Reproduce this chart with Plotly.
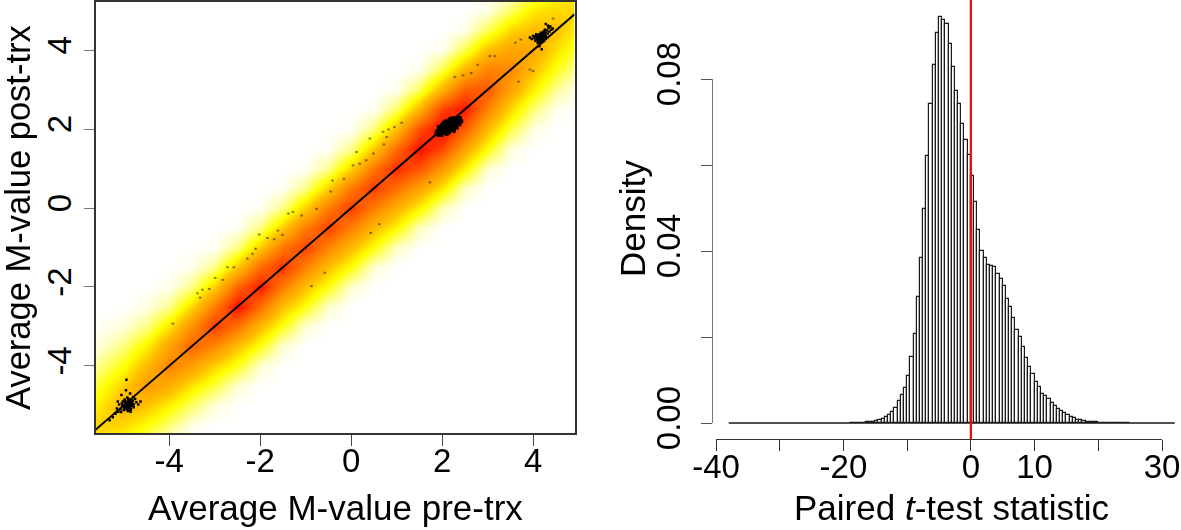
import plotly.graph_objects as go

W, H = 1181, 530
FONT = "Liberation Sans"

# ---------- left panel data ----------
grid = [-6.0 + 0.5 * i for i in range(24)]          # -6.0 ... 5.5
band_offsets = [-2.5, -2.0, -1.5, -1.0, -0.5, 0.0, 0.5, 1.0, 1.5, 2.0, 2.5]
band_rows = [
    [0.00, 0.03, 0.12, 0.22, 0.30, 0.36, 0.30, 0.22, 0.13, 0.05, 0.01],
    [0.00, 0.03, 0.12, 0.23, 0.32, 0.38, 0.32, 0.24, 0.14, 0.05, 0.01],
    [0.00, 0.02, 0.12, 0.24, 0.36, 0.46, 0.38, 0.26, 0.14, 0.04, 0.00],
    [0.00, 0.02, 0.14, 0.27, 0.42, 0.55, 0.44, 0.30, 0.13, 0.03, 0.00],
    [0.00, 0.02, 0.15, 0.30, 0.48, 0.64, 0.52, 0.33, 0.13, 0.02, 0.00],
    [0.00, 0.03, 0.17, 0.33, 0.54, 0.74, 0.58, 0.36, 0.13, 0.02, 0.00],
    [0.00, 0.04, 0.20, 0.37, 0.62, 0.86, 0.66, 0.38, 0.13, 0.01, 0.00],
    [0.00, 0.05, 0.24, 0.42, 0.70, 0.97, 0.74, 0.40, 0.14, 0.01, 0.00],
    [0.00, 0.05, 0.25, 0.44, 0.70, 0.94, 0.72, 0.40, 0.14, 0.01, 0.00],
    [0.00, 0.05, 0.25, 0.42, 0.66, 0.88, 0.68, 0.39, 0.13, 0.01, 0.00],
    [0.00, 0.05, 0.25, 0.42, 0.64, 0.84, 0.66, 0.38, 0.13, 0.01, 0.00],
    [0.00, 0.05, 0.25, 0.42, 0.62, 0.84, 0.66, 0.38, 0.13, 0.01, 0.00],
    [0.00, 0.05, 0.26, 0.43, 0.64, 0.85, 0.67, 0.38, 0.13, 0.01, 0.00],
    [0.00, 0.05, 0.26, 0.44, 0.66, 0.86, 0.68, 0.39, 0.14, 0.01, 0.00],
    [0.00, 0.06, 0.28, 0.47, 0.70, 0.90, 0.72, 0.42, 0.16, 0.02, 0.00],
    [0.00, 0.07, 0.30, 0.52, 0.78, 0.97, 0.80, 0.46, 0.18, 0.02, 0.00],
    [0.00, 0.08, 0.32, 0.55, 0.82, 1.00, 0.84, 0.48, 0.20, 0.02, 0.00],
    [0.00, 0.07, 0.30, 0.52, 0.76, 0.95, 0.76, 0.46, 0.19, 0.02, 0.00],
    [0.00, 0.05, 0.26, 0.44, 0.64, 0.78, 0.64, 0.42, 0.18, 0.03, 0.00],
    [0.00, 0.04, 0.20, 0.36, 0.52, 0.62, 0.52, 0.36, 0.17, 0.04, 0.00],
    [0.00, 0.03, 0.15, 0.30, 0.42, 0.50, 0.43, 0.32, 0.16, 0.05, 0.01],
    [0.00, 0.02, 0.12, 0.25, 0.35, 0.42, 0.36, 0.28, 0.16, 0.06, 0.01],
    [0.00, 0.01, 0.10, 0.20, 0.30, 0.36, 0.31, 0.25, 0.15, 0.06, 0.01],
    [0.00, 0.01, 0.08, 0.18, 0.26, 0.32, 0.28, 0.22, 0.14, 0.06, 0.02],
]
density_stops = [[0.0, "#ffffff"], [0.09, "#ffffb0"], [0.27, "#ffff00"], [0.42, "#ffbe00"],
                 [0.58, "#ff9400"], [0.8, "#ff5000"], [1.0, "#ff0000"]]

stray_x = [1.11, 0.95, 0.82, 0.70, 0.78, 0.72, 0.41, 0.49, 0.12, 0.19, 0.04, 0.33, -0.16, -0.41, -0.45, -0.76,
           -1.28, -1.38, -1.09, -2.02, -1.61, -1.51, -1.84, -1.69, -2.10, -2.17, -2.28, -2.72, -2.58, -2.99,
           -2.82, -3.12, -3.27, -3.38, -3.32, -3.92, 1.73, 0.62, 0.43, -0.58, -0.87, 3.68, 3.93, 4.00,
           2.28, 2.46, 2.64, 2.78, 3.05, 3.16, 3.61, 3.73, 4.44]
stray_y = [2.16, 2.05, 1.99, 1.93, 1.80, 1.61, 1.76, 1.38, 1.42, 1.12, 1.08, 1.21, 0.74, 0.70, 0.42, -0.02,
           -0.10, -0.14, -0.19, -0.67, -0.57, -0.68, -0.76, -0.79, -1.03, -1.16, -1.28, -1.50, -1.50, -1.77,
           -1.82, -2.05, -2.07, -2.16, -2.27, -2.93, 0.65, -0.41, -0.63, -1.64, -1.98, 3.20, 3.51, 3.47,
           3.32, 3.36, 3.42, 3.63, 3.85, 3.85, 4.19, 4.27, 4.80]

low_x = [-5.31, -5.24, -5.18, -5.15, -5.12, -5.10, -5.07, -5.05, -5.03, -5.02, -5.00, -4.98, -4.97, -4.96, -4.95,
         -4.94, -4.93, -4.92, -4.91, -4.90, -4.89, -4.88, -4.87, -4.86, -4.85, -4.84, -4.82, -4.80, -4.78, -4.75,
         -4.72, -4.68, -4.63, -5.00, -4.96, -4.91, -4.87, -5.04, -4.99, -4.93, -4.89, -4.83, -4.97, -4.94, -4.90,
         -4.94, -5.06, -4.79, -4.85, -5.13, -4.96, -4.92, -4.88, -4.84, -4.80, -4.94, -4.90, -4.86, -4.82,
         -4.92, -4.88, -4.84, -4.78, -4.95, -4.91, -4.86]
low_y = [-5.38, -5.30, -5.21, -5.08, -5.16, -4.98, -5.10, -4.74, -5.02, -4.90, -5.12, -4.85, -4.97, -5.05, -4.62,
         -4.92, -5.00, -4.80, -5.08, -4.95, -4.87, -5.02, -4.93, -4.70, -4.98, -5.10, -4.88, -4.96, -5.05, -4.84,
         -4.92, -4.98, -4.90, -5.00, -4.94, -5.02, -4.90, -4.95, -5.06, -4.98, -4.86, -4.94, -4.88, -4.96, -4.92,
         -4.35, -5.17, -4.79, -5.16, -4.90, -4.90, -5.06, -4.94, -5.02, -4.88, -5.10, -4.84, -5.12, -5.00,
         -4.98, -5.04, -4.90, -4.98, -4.92, -5.14, -5.08]

mid_x = [1.88, 1.90, 1.92, 1.94, 1.96, 1.98, 2.00, 2.02, 2.04, 2.06, 2.08, 2.10, 2.12, 2.14, 2.16, 2.18, 2.20, 2.22,
         2.24, 2.26, 2.28, 2.30, 2.33, 2.36, 2.39, 1.95, 1.99, 2.03, 2.07, 2.11, 2.15, 2.19, 2.23, 2.27, 2.31, 1.97,
         2.01, 2.05, 2.09, 2.13, 2.17, 2.21, 2.25, 2.29, 2.00, 2.04, 2.08, 2.12, 2.16, 2.20, 2.24, 2.05, 2.10, 2.15,
         2.19, 2.23, 2.09, 2.14, 2.18, 1.93, 1.92, 1.96, 2.00, 1.98, 2.02, 2.04, 2.06, 2.08, 2.10, 2.12, 2.12, 2.15,
         2.16, 2.18, 2.20, 2.22, 2.22, 2.26, 2.27, 2.28, 2.32, 2.33, 2.38, 2.42, 2.05, 2.00, 2.10, 2.25, 2.18, 2.08]
mid_y = [1.90, 1.95, 1.92, 1.99, 1.96, 2.03, 1.95, 2.07, 2.00, 2.12, 2.02, 2.17, 2.05, 2.21, 2.08, 2.24, 2.10, 2.27,
         2.14, 2.26, 2.18, 2.22, 2.26, 2.24, 2.28, 2.04, 2.08, 1.98, 2.14, 2.08, 2.15, 2.04, 2.20, 2.10, 2.16, 1.91,
         2.11, 2.05, 2.19, 2.13, 2.02, 2.15, 2.08, 2.27, 2.02, 2.16, 2.09, 1.99, 2.21, 2.18, 2.24, 1.93, 2.12, 2.15,
         2.09, 2.12, 1.97, 2.05, 2.01, 2.05, 1.85, 1.93, 2.00, 1.85, 1.90, 2.06, 1.95, 2.14, 1.88, 2.00, 2.20, 1.92,
         2.10, 2.24, 1.98, 2.08, 2.20, 1.96, 2.12, 2.24, 2.04, 2.16, 2.12, 2.20, 2.15, 1.93, 2.08, 2.02, 2.00, 2.02]

top_x = [3.93, 3.97, 4.00, 4.03, 4.05, 4.07, 4.09, 4.10, 4.12, 4.13, 4.14, 4.15, 4.16, 4.17, 4.18, 4.19, 4.20, 4.21,
         4.22, 4.23, 4.24, 4.25, 4.26, 4.27, 4.28, 4.30, 4.32, 4.34, 4.36, 4.38, 4.40, 4.43, 4.12, 4.15, 4.18, 4.21,
         4.24, 4.10, 4.14, 4.17, 4.20, 4.23, 4.26, 4.16, 4.19, 4.22, 4.08, 4.05, 4.33, 4.28, 4.12, 4.16, 4.20, 4.24,
         4.28, 4.14, 4.18, 4.22, 4.26, 4.18, 4.22, 4.16]
top_y = [4.32, 4.28, 4.36, 4.30, 4.24, 4.40, 4.34, 4.18, 4.38, 4.29, 4.10, 4.34, 4.24, 4.44, 4.30, 4.02, 4.36, 4.26,
         4.41, 4.32, 4.48, 4.38, 4.52, 4.44, 4.36, 4.50, 4.42, 4.56, 4.47, 4.60, 4.52, 4.55, 4.22, 4.28, 4.33, 4.30,
         4.36, 4.25, 4.32, 4.27, 4.39, 4.34, 4.42, 4.38, 4.24, 4.46, 4.28, 4.35, 4.62, 4.66, 4.36, 4.20, 4.28, 4.24,
         4.30, 4.40, 4.36, 4.22, 4.34, 4.18, 4.30, 4.34]

identity_line = [-5.62, 4.91]

# ---------- right panel data ----------
bin_left = [-19 + 0.5 * i for i in range(88)]       # -19.0 ... 24.5, width 0.5
bin_density = [
    0.00002, 0.00002, 0.00004, 0.00006, 0.0001, 0.00015, 0.0002, 0.0003, 0.0005, 0.0007,
    0.0010, 0.0014, 0.0019, 0.0026, 0.0036, 0.0051, 0.0066, 0.0081, 0.0109, 0.0153,
    0.0207, 0.0293, 0.0384, 0.0498, 0.0621, 0.0742, 0.0833, 0.0907, 0.0944, 0.0937,
    0.0928, 0.0881, 0.0828, 0.0772, 0.0742, 0.0695, 0.0658, 0.0623, 0.0575, 0.0514,
    0.0449, 0.0400, 0.0383, 0.0367, 0.0365, 0.0363, 0.0346, 0.0335, 0.0318, 0.0288,
    0.0269, 0.0245, 0.0216, 0.0200, 0.0176, 0.0151, 0.0131, 0.0114, 0.0096, 0.0084,
    0.0068, 0.0063, 0.0055, 0.0047, 0.0040, 0.0033, 0.0028, 0.0023, 0.0018, 0.0014,
    0.0011, 0.0008, 0.0006, 0.0004, 0.0003, 0.0002, 0.00015, 0.00012, 0.0001, 0.00008,
    0.00005, 0.00004, 0.00003, 0.00002, 0.00002, 0.00001, 0.00001, 0.00001,
]
baseline_x = [-38, 32]
baseline_y = [0, 0]
marker_x = [0, 0]
marker_y = [-0.0037, 0.0984]
axis_span_x = [-40, 30]
axis_span_y = [0, 0.08]

ticks_left = [-4, -2, 0, 2, 4]
text_left = ["-4", "-2", "0", "2", "4"]
x_ticks_right = [-40, -30, -20, -10, 0, 10, 20, 30]
x_text_right = ["-40", "", "-20", "", "0", "10", "", "30"]
y_ticks_right = [0, 0.02, 0.04, 0.06, 0.08]
y_text_right = ["0.00", "", "0.04", "", "0.08"]

# ---------- build the density matrix from the read table ----------
z = [[0.0 for _ in grid] for _ in grid]
for i, row in enumerate(band_rows):
    for off, val in zip(band_offsets, row):
        j = i + int(round(off / 0.5))
        if 0 <= j < len(grid):
            z[j][i] = val


def px(v):
    return v / W


def py(v):
    return 1 - v / H


fig = go.Figure()
fig.add_trace(go.Heatmap(x=grid, y=grid, z=z, zmin=0, zmax=1, zsmooth="best", colorscale=density_stops,
                         showscale=False, hoverinfo="skip", xaxis="x", yaxis="y"))
fig.add_trace(go.Scatter(x=stray_x, y=stray_y, mode="markers", opacity=0.7,
                         marker=dict(color="#222", size=2, symbol="square"), xaxis="x", yaxis="y"))
for xs, ys, size in [(low_x, low_y, 2.5), (mid_x, mid_y, 4), (top_x, top_y, 2.5)]:
    fig.add_trace(go.Scatter(x=xs, y=ys, mode="markers", marker=dict(color="black", size=size, symbol="square"),
                             xaxis="x", yaxis="y"))
fig.add_trace(go.Scatter(x=identity_line, y=identity_line, mode="lines", line=dict(color="black", width=2),
                         xaxis="x", yaxis="y"))

# Data layer of the right panel: hidden axes on a roomier domain, same scale as the visible axes below.
fig.add_trace(go.Bar(x=[b + 0.25 for b in bin_left], y=bin_density, width=0.5,
                     marker=dict(color="white", line=dict(color="#1a1a1a", width=1.2)),
                     xaxis="x2", yaxis="y2"))
fig.add_trace(go.Scatter(x=baseline_x, y=baseline_y, mode="lines",
                         line=dict(color="#1a1a1a", width=1.5), xaxis="x2", yaxis="y2"))
fig.add_trace(go.Scatter(x=marker_x, y=marker_y, mode="lines",
                         line=dict(color="#ff0000", width=2.2), xaxis="x2", yaxis="y2"))
# Carrier for the visible R-style axes (no marks).
fig.add_trace(go.Scatter(x=axis_span_x, y=axis_span_y, mode="markers", marker=dict(opacity=0, size=1),
                         hoverinfo="skip", xaxis="x3", yaxis="y3"))

axis_font = dict(family=FONT, size=33, color="black")
title_font = dict(family=FONT, size=35, color="black")
x_scale = (1162 - 716) / 70.0
y_scale = (423 - 79) / 0.08
fig.update_layout(
    width=W, height=H, margin=dict(l=0, r=0, t=0, b=0, autoexpand=False),
    paper_bgcolor="white", plot_bgcolor="rgba(0,0,0,0)", showlegend=False, bargap=0,
    xaxis=dict(domain=[px(95.5), px(574.5)], range=[-5.62, 4.91], tickvals=ticks_left, ticktext=text_left,
               ticks="outside", ticklen=11, tickcolor="#444", showgrid=False, zeroline=False, showline=True,
               linecolor="#333", linewidth=1.5, mirror=True, tickfont=axis_font, anchor="y",
               ticklabelstandoff=-13),
    yaxis=dict(domain=[py(433), py(2)], range=[-5.70, 5.22], tickvals=ticks_left, ticktext=text_left,
               ticks="outside", ticklen=10, tickcolor="#777", showgrid=False, zeroline=False, showline=True,
               linecolor="#333", linewidth=1.5, mirror=True, tickfont=axis_font, tickangle=-90, anchor="x"),
    xaxis2=dict(domain=[px(700), px(1181)], range=[-40 + (700 - 716) / x_scale, 30 + (1181 - 1162) / x_scale],
                visible=False, anchor="y2"),
    yaxis2=dict(domain=[py(439), py(0)], range=[(423 - 439) / y_scale, 423 / y_scale], visible=False, anchor="x2"),
    xaxis3=dict(domain=[px(716), px(1162)], range=[-40, 30], tickvals=x_ticks_right, ticktext=x_text_right,
                ticks="outside", ticklen=11, tickcolor="#333", showgrid=False, zeroline=False, showline=True,
                linecolor="#333", linewidth=1, tickfont=axis_font, anchor="free", position=py(439),
                ticklabelstandoff=-13),
    yaxis3=dict(domain=[py(423), py(79)], range=[0, 0.08], tickvals=y_ticks_right, ticktext=y_text_right,
                ticks="outside", ticklen=11, tickcolor="#555", showgrid=False, zeroline=False, showline=True,
                linecolor="#777", linewidth=1, tickfont=axis_font, tickangle=-90, anchor="free",
                position=px(711.5), ticklabelstandoff=7),
    annotations=[
        dict(text="Average M-value pre-trx", x=px(335), y=py(507), xref="paper", yref="paper", showarrow=False,
             xanchor="center", yanchor="middle", font=title_font),
        dict(text="Average M-value post-trx", x=px(18), y=py(218), xref="paper", yref="paper", showarrow=False,
             xanchor="center", yanchor="middle", textangle=-90, font=dict(family=FONT, size=34.5, color="black")),
        dict(text="Paired <i>t</i>-test statistic", x=px(951), y=py(507), xref="paper", yref="paper",
             showarrow=False, xanchor="center", yanchor="middle", font=title_font),
        dict(text="Density", x=px(632), y=py(219), xref="paper", yref="paper", showarrow=False,
             xanchor="center", yanchor="middle", textangle=-90, font=title_font),
    ],
)

fig.write_html("out.html", config=dict(displayModeBar=False),
               post_script="document.body.style.margin='0';document.body.style.overflow='hidden';")
